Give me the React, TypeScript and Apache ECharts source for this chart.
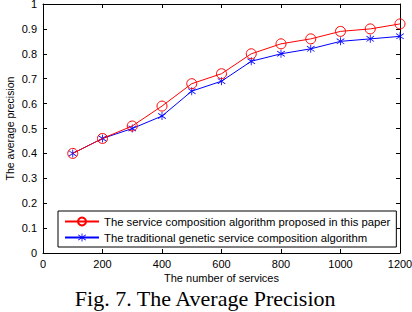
import React, { useEffect, useRef } from "react";
import * as echarts from "echarts";

const services = [100, 200, 300, 400, 500, 600, 700, 800, 900, 1000, 1100, 1200];
const proposedPrecision = [0.4, 0.46, 0.51, 0.59, 0.68, 0.72, 0.8, 0.84, 0.86, 0.89, 0.9, 0.92];
const traditionalPrecision = [0.4, 0.46, 0.5, 0.55, 0.65, 0.69, 0.77, 0.8, 0.82, 0.85, 0.86, 0.87];
const seriesNames = [
  "The service composition algorithm proposed in this paper",
  "The traditional genetic service composition algorithm",
];

// Asterisk marker built from three thin crossing bars
const ASTERISK =
  "path://M9,0 L11,0 L11,20 L9,20 Z M0.5,4.2 L1.5,2.5 L19.5,15.8 L18.5,17.5 Z M0.5,15.8 L1.5,17.5 L19.5,4.2 L18.5,2.5 Z";

const font = "'Liberation Sans', Arial, sans-serif";

export default function App() {
  const ref = useRef<HTMLDivElement>(null);
  useEffect(() => {
    const chart = echarts.init(ref.current!, null, { renderer: "svg" });
    const axisCommon = {
      type: "value" as const,
      axisLine: { show: true, onZero: false, lineStyle: { color: "#000", width: 1 } },
      axisTick: { show: true, inside: true, length: 4, lineStyle: { color: "#000" } },
      splitLine: { show: false },
    };
    const toPairs = (ys: number[]) => services.map((x, i) => [x, ys[i]]);
    chart.setOption({
      animation: false,
      backgroundColor: "#fff",
      textStyle: { fontFamily: font },
      grid: { left: 43, right: 12, top: 4, bottom: 59, containLabel: false, outerBoundsMode: "none" },
      xAxis: [
        {
          ...axisCommon,
          min: 0,
          max: 1200,
          interval: 200,
          position: "bottom",
          axisLabel: {
            color: "#000",
            fontSize: 11,
            margin: 5,
            fontFamily: font,
            formatter: (v: number) => String(v),
          },
          name: "The number of services",
          nameLocation: "middle",
          nameGap: 19,
          nameMoveOverlap: false,
          nameTextStyle: { color: "#000", fontSize: 11, fontFamily: font },
        },
        {
          ...axisCommon,
          min: 0,
          max: 1200,
          interval: 200,
          position: "top",
          axisLabel: { show: false },
        },
      ],
      yAxis: [
        {
          ...axisCommon,
          min: 0,
          max: 1,
          interval: 0.1,
          position: "left",
          axisLabel: {
            color: "#000",
            fontSize: 11,
            margin: 6,
            fontFamily: font,
            formatter: (v: number) => String(Math.round(v * 10) / 10),
          },
          name: "The average precision",
          nameLocation: "middle",
          nameGap: 28,
          nameRotate: 90,
          nameMoveOverlap: false,
          nameTextStyle: { color: "#000", fontSize: 10.5, fontFamily: font },
        },
        {
          ...axisCommon,
          min: 0,
          max: 1,
          interval: 0.1,
          position: "right",
          axisLabel: { show: false },
        },
      ],
      legend: {
        left: 58,
        top: 211,
        orient: "vertical",
        itemGap: 5,
        itemWidth: 34,
        itemHeight: 10,
        padding: [5, 6, 4, 6],
        borderColor: "#000",
        borderWidth: 1,
        backgroundColor: "#fff",
        textStyle: { color: "#000", fontSize: 11.3, fontFamily: font },
        data: seriesNames,
      },
      series: [
        {
          name: seriesNames[0],
          type: "line",
          data: toPairs(proposedPrecision),
          symbol: "circle",
          symbolSize: 10,
          showAllSymbol: true,
          lineStyle: { color: "#ff0000", width: 1 },
          itemStyle: { color: "transparent", borderColor: "#ff0000", borderWidth: 1 },
          z: 3,
        },
        {
          name: seriesNames[1],
          type: "line",
          data: toPairs(traditionalPrecision),
          symbol: ASTERISK,
          symbolSize: 8,
          showAllSymbol: true,
          lineStyle: { color: "#0000ff", width: 1 },
          itemStyle: { color: "#0000ff", borderWidth: 0 },
          z: 2,
        },
      ],
      graphic: [
        {
          type: "text",
          left: "center",
          top: 287,
          style: {
            text: "Fig. 7. The Average Precision",
            fontFamily: "'Liberation Serif', 'Times New Roman', serif",
            fontSize: 22,
            fill: "#000",
          },
        },
      ],
    });
    return () => chart.dispose();
  }, []);
  return <div ref={ref} style={{ width: 412, height: 312, position: "absolute", left: 0, top: 0 }} />;
}
